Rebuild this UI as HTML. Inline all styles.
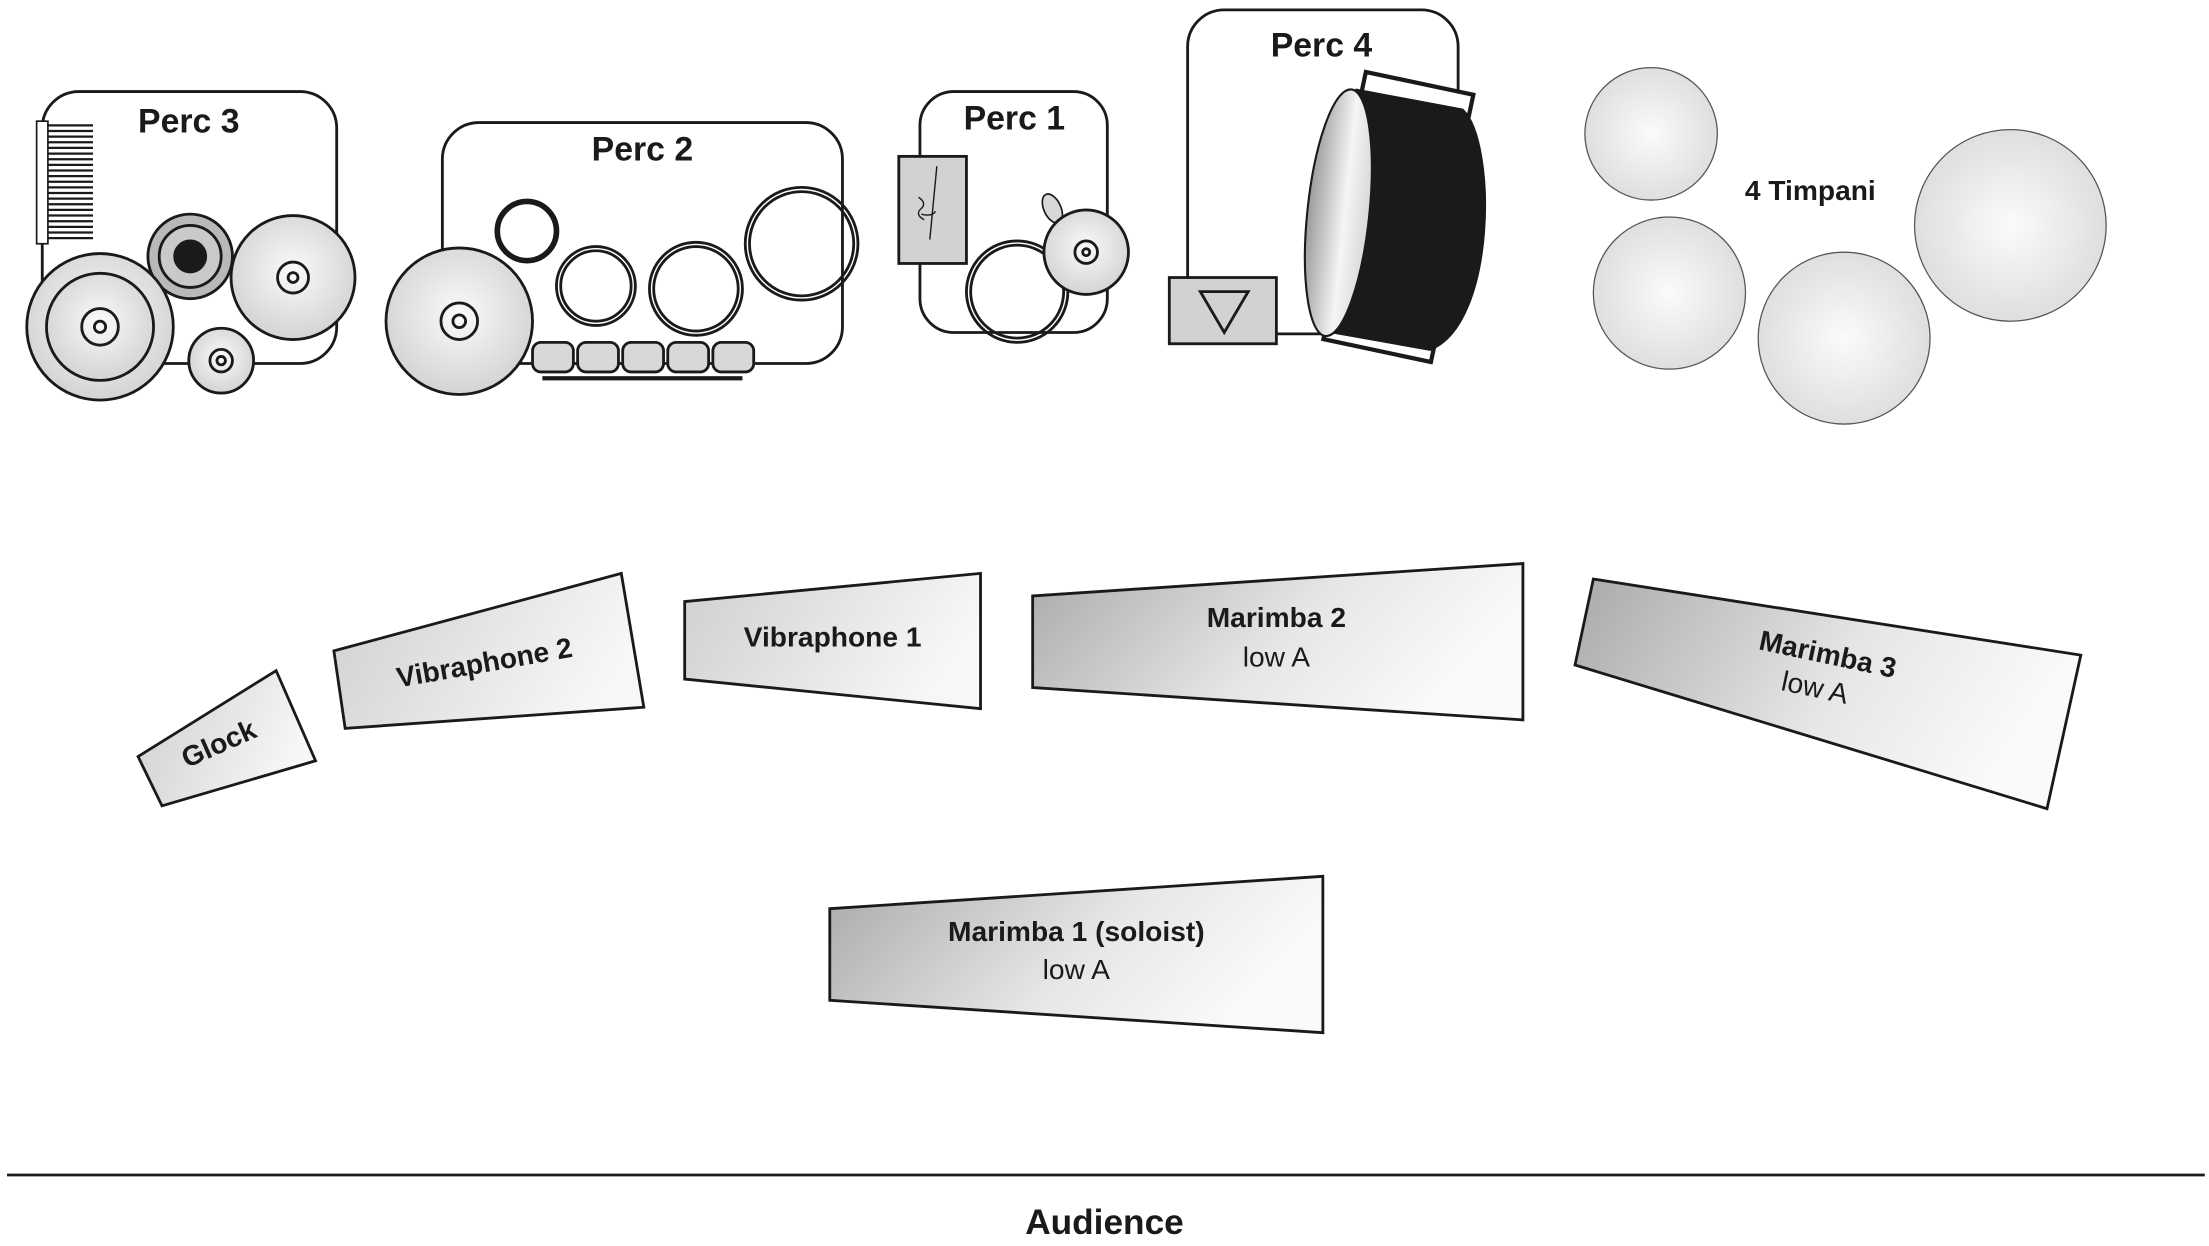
<!DOCTYPE html>
<html><head><meta charset="utf-8"><style>
html,body{margin:0;padding:0;background:#fff}
svg{display:block}
text{font-family:"Liberation Sans",sans-serif;fill:#1a1a1a}
</style></head><body>
<svg width="2209" height="1246" viewBox="0 0 1568 884.4" preserveAspectRatio="none" xmlns="http://www.w3.org/2000/svg">
<defs>
<radialGradient id="cym" cx="0.5" cy="0.45" r="0.6"><stop offset="0" stop-color="#fafafa"/><stop offset="1" stop-color="#cfd0d2"/></radialGradient>
<radialGradient id="tim" cx="0.5" cy="0.5" r="0.55"><stop offset="0" stop-color="#fbfbfb"/><stop offset="1" stop-color="#dcdcdd"/></radialGradient>
<linearGradient id="mar" x1="0" y1="0" x2="1" y2="0.3"><stop offset="0" stop-color="#a9a9ab"/><stop offset="0.6" stop-color="#e6e6e7"/><stop offset="1" stop-color="#fafafa"/></linearGradient>
<linearGradient id="vib" x1="0" y1="0" x2="1" y2="0.3"><stop offset="0" stop-color="#cfcfd1"/><stop offset="1" stop-color="#f7f7f7"/></linearGradient>
<linearGradient id="head" x1="0" y1="0" x2="1" y2="0"><stop offset="0" stop-color="#9a9a9c"/><stop offset="0.6" stop-color="#f5f5f5"/><stop offset="1" stop-color="#d8d8d8"/></linearGradient>
</defs>
<g stroke="#1a1a1a" stroke-width="2" fill="none">
<!-- Perc 3 -->
<rect x="30" y="65" width="209" height="193" rx="26" fill="#fff"/>
<rect x="26" y="86" width="8" height="87" fill="#fff" stroke-width="1.2"/>
<g stroke-width="1.6">
<path d="M34 89H66M34 93H66M34 97H66M34 101H66M34 105H66M34 109H66M34 113H66M34 117H66M34 121H66M34 125H66M34 129H66M34 133H66M34 137H66M34 141H66M34 145H66M34 149H66M34 153H66M34 157H66M34 161H66M34 165H66M34 169H66"/>
</g>
<circle cx="135" cy="182" r="30" fill="#b9b9bb"/>
<circle cx="135" cy="182" r="22" fill="#c9c9cb"/>
<circle cx="135" cy="182" r="11" fill="#1a1a1a"/>
<circle cx="71" cy="232" r="52" fill="url(#cym)"/>
<circle cx="71" cy="232" r="38" fill="url(#cym)"/>
<circle cx="71" cy="232" r="13"/>
<circle cx="71" cy="232" r="4"/>
<circle cx="208" cy="197" r="44" fill="url(#cym)"/>
<circle cx="208" cy="197" r="11"/><circle cx="208" cy="197" r="3.5"/>
<circle cx="157" cy="256" r="23" fill="url(#cym)"/>
<circle cx="157" cy="256" r="8"/><circle cx="157" cy="256" r="3"/>
<!-- Perc 2 -->
<rect x="314" y="87" width="284" height="171" rx="26" fill="#fff"/>
<circle cx="374" cy="164" r="21" stroke-width="4"/>
<circle cx="423" cy="203" r="28" stroke-width="2"/><circle cx="423" cy="203" r="25" stroke-width="2"/>
<circle cx="494" cy="205" r="33"/><circle cx="494" cy="205" r="30"/>
<circle cx="569" cy="173" r="40"/><circle cx="569" cy="173" r="37"/>
<circle cx="326" cy="228" r="52" fill="url(#cym)"/>
<circle cx="326" cy="228" r="13"/><circle cx="326" cy="228" r="4.5"/>
<g fill="#d8d8d9">
<rect x="378" y="243" width="29" height="21" rx="6"/><rect x="410" y="243" width="29" height="21" rx="6"/><rect x="442" y="243" width="29" height="21" rx="6"/><rect x="474" y="243" width="29" height="21" rx="6"/><rect x="506" y="243" width="29" height="21" rx="6"/>
</g>
<rect x="385" y="267" width="142" height="3" fill="#1a1a1a" stroke="none"/>
<!-- Perc 1 -->
<rect x="653" y="65" width="133" height="171" rx="24" fill="#fff"/>
<rect x="638" y="111" width="48" height="76" fill="#d2d2d3"/>
<path d="M665 118 L660 170 M652 140 q6 4 2 8 q-5 4 2 8 M654 152 q8 2 10 -2" stroke-width="1"/>
<circle cx="722" cy="207" r="36"/><circle cx="722" cy="207" r="33"/>
<ellipse cx="747" cy="148" rx="6" ry="11" transform="rotate(-25 747 148)" fill="#d8d8d9" stroke-width="1.2"/>
<circle cx="771" cy="179" r="30" fill="url(#cym)"/>
<circle cx="771" cy="179" r="8"/><circle cx="771" cy="179" r="2.5"/>
<!-- Perc 4 -->
<path d="M843 197 V33 a26 26 0 0 1 26 -26 H1009 a26 26 0 0 1 26 26 V95"/>
<path d="M906 237 H945"/>
<rect x="830" y="197" width="76" height="47" fill="#d2d2d3"/>
<path d="M852 207 L886 207 L869 236 Z"/>
<g transform="rotate(12 1006 67)"><rect x="967" y="59" width="78" height="15" fill="#fff" stroke-width="3"/></g>
<g transform="rotate(12 979 242)"><rect x="940" y="234" width="78" height="15" fill="#fff" stroke-width="3"/></g>
<path d="M963 64 L1038 78 C1062 100 1062 230 1015 248 L942 235 Z" fill="#1a1a1a"/>
<ellipse cx="950" cy="151" rx="22" ry="88" transform="rotate(6 950 151)" fill="url(#head)" stroke-width="1.5"/>
<!-- Timpani -->
<g stroke-width="0.9" stroke="#555">
<circle cx="1172" cy="95" r="47" fill="url(#tim)"/>
<circle cx="1185" cy="208" r="54" fill="url(#tim)"/>
<circle cx="1309" cy="240" r="61" fill="url(#tim)"/>
<circle cx="1427" cy="160" r="68" fill="url(#tim)"/>
</g>
<!-- lower instruments -->
<g stroke-width="2">
<polygon points="98,537 196,476 224,540 115,572" fill="url(#vib)"/>
<polygon points="237,462 441,407 457,502 245,517" fill="url(#vib)"/>
<polygon points="486,427 696,407 696,503 486,482" fill="url(#vib)"/>
<polygon points="733,423 1081,400 1081,511 733,488" fill="url(#mar)"/>
<polygon points="1131,411 1477,465 1453,574 1118,472" fill="url(#mar)"/>
<polygon points="589,645 939,622 939,733 589,710" fill="url(#mar)"/>
</g>
<line x1="5" y1="834" x2="1565" y2="834" stroke-width="2"/>
</g>
<g text-anchor="middle">
<text x="134" y="94" font-size="24" font-weight="bold">Perc 3</text>
<text x="456" y="114" font-size="24" font-weight="bold">Perc 2</text>
<text x="720" y="92" font-size="24" font-weight="bold">Perc 1</text>
<text x="938" y="40" font-size="24" font-weight="bold">Perc 4</text>
<text x="1285" y="142" font-size="20" font-weight="bold">4 Timpani</text>
<text x="0" y="0" font-size="20" font-weight="bold" transform="translate(158,534) rotate(-24)">Glock</text>
<text x="0" y="0" font-size="20" font-weight="bold" transform="translate(345,477) rotate(-10)">Vibraphone 2</text>
<text x="591" y="459" font-size="20" font-weight="bold">Vibraphone 1</text>
<text x="906" y="445" font-size="20" font-weight="bold">Marimba 2</text>
<text x="906" y="473" font-size="20">low A</text>
<g transform="translate(1296,471) rotate(12)"><text x="0" y="0" font-size="20" font-weight="bold">Marimba 3</text><text x="-4" y="25" font-size="20">low A</text></g>
<text x="764" y="668" font-size="20" font-weight="bold">Marimba 1 (soloist)</text>
<text x="764" y="695" font-size="20">low A</text>
<text x="784" y="876" font-size="25" font-weight="bold">Audience</text>
</g>
</svg>
</body></html>
